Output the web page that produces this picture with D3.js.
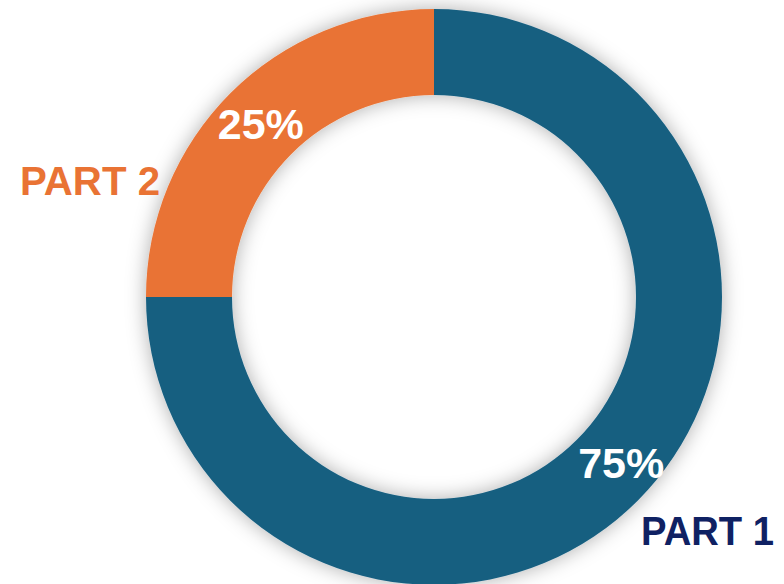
<!DOCTYPE html>
<html><head><meta charset="utf-8">
<script src="https://cdn.jsdelivr.net/npm/d3@7"></script>
<style>html,body{margin:0;padding:0;background:#fff;overflow:hidden}</style>
</head><body>
<svg id="chart" width="784" height="584"></svg>
<script>
const categories = ["PART 1", "PART 2"];
const values = [75, 25];
const valueLabels = ["75%", "25%"];
const colors = ["#175F80", "#E97334"];
const nameColors = ["#0F2163", "#E97334"];

const svg = d3.select("#chart");
const cx = 434, cy = 297, rOuter = 288, rInner = 202;

const defs = svg.append("defs");
const f = defs.append("filter").attr("id","sh").attr("x","-20%").attr("y","-20%").attr("width","140%").attr("height","140%");
f.append("feGaussianBlur").attr("in","SourceAlpha").attr("stdDeviation",10).attr("result","b");
f.append("feFlood").attr("flood-color","#000").attr("flood-opacity",0.32);
f.append("feComposite").attr("in2","b").attr("operator","in").attr("result","s");
const m = f.append("feMerge");
m.append("feMergeNode").attr("in","s");
m.append("feMergeNode").attr("in","SourceGraphic");

const pie = d3.pie().sort(null).value(d => d)(values);
const arc = d3.arc().innerRadius(rInner).outerRadius(rOuter);
const g = svg.append("g").attr("transform", `translate(${cx},${cy})`);
const gs = g.append("g").attr("filter","url(#sh)");
gs.selectAll("path").data(pie).join("path")
  .attr("d", arc).attr("fill", (d,i) => colors[i]);

const labelNudge = [[14,-7],[0,0]];
g.selectAll("text.pct").data(pie).join("text")
  .attr("class","pct")
  .attr("x", (d,i) => arc.centroid(d)[0] + labelNudge[i][0])
  .attr("y", (d,i) => arc.centroid(d)[1] + labelNudge[i][1] + 15)
  .attr("text-anchor","middle")
  .attr("font-family","'Liberation Sans', Arial, sans-serif")
  .attr("font-weight","bold").attr("font-size",43)
  .attr("fill","#fff")
  .text((d,i) => valueLabels[i]);

// category labels
const namePos = [{x:641, y:545, anchor:"start", w:133}, {x:160, y:195, anchor:"end", w:140}];
svg.selectAll("text.name").data(categories).join("text")
  .attr("class","name")
  .attr("x",(d,i)=>namePos[i].x).attr("y",(d,i)=>namePos[i].y)
  .attr("text-anchor",(d,i)=>namePos[i].anchor)
  .attr("font-family","'Liberation Sans', Arial, sans-serif")
  .attr("font-weight","bold").attr("font-size",41)
  .attr("textLength",(d,i)=>namePos[i].w)
  .attr("lengthAdjust","spacingAndGlyphs")
  .attr("fill",(d,i)=>nameColors[i])
  .text(d=>d);
</script>
</body></html>
